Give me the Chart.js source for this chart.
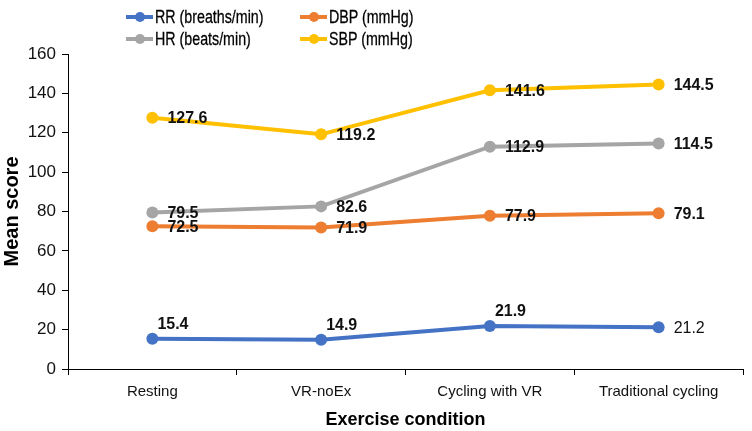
<!DOCTYPE html>
<html>
<head>
<meta charset="utf-8">
<script src="https://cdn.jsdelivr.net/npm/chart.js@4"></script>
<style>
  html, body { margin: 0; padding: 0; background: #fff; }
  #wrap { position: relative; width: 752px; height: 431px; }
  #legend { position: absolute; left: 0; top: 0; width: 752px; height: 52px; font-family: "Liberation Sans", Arial, sans-serif; font-size: 19px; color: #000; }
  .item { position: absolute; display: flex; align-items: center; height: 22px; }
  .swatch { position: relative; width: 27px; height: 4px; margin-right: 2px; }
  .swatch i { position: absolute; left: 9px; top: -3px; width: 10px; height: 10px; border-radius: 50%; }
  .txt { display: inline-block; transform: scaleX(0.75); transform-origin: left center; white-space: nowrap; -webkit-text-stroke: 0.3px #000; }
</style>
</head>
<body>
<div id="wrap">
  <canvas id="myChart" width="752" height="431"></canvas>
  <div id="legend"></div>
</div>
<script>
const categories = ["Resting", "VR-noEx", "Cycling with VR", "Traditional cycling"];
const rrValues = [15.4, 14.9, 21.9, 21.2];
const dbpValues = [72.5, 71.9, 77.9, 79.1];
const hrValues = [79.5, 82.6, 112.9, 114.5];
const sbpValues = [127.6, 119.2, 141.6, 144.5];
const yTicks = [0, 20, 40, 60, 80, 100, 120, 140, 160];

const series = [
  { label: "RR (breaths/min)", data: rrValues, color: "#4472C4" },
  { label: "DBP (mmHg)", data: dbpValues, color: "#ED7D31" },
  { label: "HR (beats/min)", data: hrValues, color: "#A5A5A5" },
  { label: "SBP (mmHg)", data: sbpValues, color: "#FFC000" }
];

// legend in two columns like the original
const legendSpots = [[126, 6], [300, 6], [126, 28], [300, 28]];
const legend = document.getElementById("legend");
series.forEach((s, i) => {
  const div = document.createElement("div");
  div.className = "item";
  div.style.left = legendSpots[i][0] + "px";
  div.style.top = legendSpots[i][1] + "px";
  div.innerHTML = '<span class="swatch" style="background:' + s.color + '"><i style="background:' + s.color + '"></i></span><span class="txt">' + s.label + '</span>';
  legend.appendChild(div);
});

// value labels next to points
const valueLabels = {
  id: "valueLabels",
  afterDatasetsDraw(chart) {
    const ctx = chart.ctx;
    ctx.save();
    ctx.fillStyle = "#111";
    chart.data.datasets.forEach((ds, di) => {
      const meta = chart.getDatasetMeta(di);
      meta.data.forEach((pt, i) => {
        const text = ds.data[i].toFixed(1);
        const isRR = di === 0;
        ctx.font = (isRR && i === 3 ? "normal" : "bold") + " 16px 'Liberation Sans', Arial, sans-serif";
        ctx.textAlign = "left";
        if (isRR && i < 3) {
          ctx.textBaseline = "bottom";
          ctx.fillText(text, pt.x + 5, pt.y - 6);
        } else {
          ctx.textBaseline = "middle";
          ctx.fillText(text, pt.x + 15, pt.y + 1);
        }
      });
    });
    ctx.restore();
  }
};

const ctx = document.getElementById("myChart").getContext("2d");
new Chart(ctx, {
  type: "line",
  data: {
    labels: categories,
    datasets: series.map(s => ({
      label: s.label,
      data: s.data,
      borderColor: s.color,
      backgroundColor: s.color,
      borderWidth: 4,
      pointRadius: 6,
      pointBackgroundColor: s.color,
      pointBorderWidth: 0,
      tension: 0,
      fill: false
    }))
  },
  options: {
    responsive: false,
    animation: false,
    layout: { padding: { top: 54, right: 9, left: 0, bottom: 0 } },
    plugins: {
      legend: { display: false },
      tooltip: { enabled: false }
    },
    scales: {
      x: {
        offset: true,
        grid: { display: true, offset: true, drawOnChartArea: false, drawTicks: true, tickLength: 6, color: "#000" },
        border: { color: "#000", width: 1 },
        ticks: {
          color: "#111",
          padding: 8,
          font: { family: "'Liberation Sans', Arial", size: 15 }
        },
        title: {
          display: true,
          text: "Exercise condition",
          color: "#000",
          padding: { top: 4, bottom: 0 },
          font: { family: "'Liberation Sans', Arial", size: 18, weight: "bold" }
        },
        afterFit(scale) { scale.height = 62; }
      },
      y: {
        min: 0,
        max: 160,
        afterBuildTicks(scale) { scale.ticks = yTicks.map(v => ({ value: v })); },
        grid: { display: true, drawOnChartArea: false, drawTicks: true, tickLength: 6, color: "#000" },
        border: { color: "#000", width: 1 },
        ticks: {
          color: "#111",
          padding: 6,
          font: { family: "'Liberation Sans', Arial", size: 17 }
        },
        title: {
          display: true,
          text: "Mean score",
          color: "#000",
          padding: { top: 0, bottom: 4 },
          font: { family: "'Liberation Sans', Arial", size: 20, weight: "bold" }
        },
        afterFit(scale) { scale.width = 68; }
      }
    }
  },
  plugins: [valueLabels]
});
</script>
</body>
</html>
